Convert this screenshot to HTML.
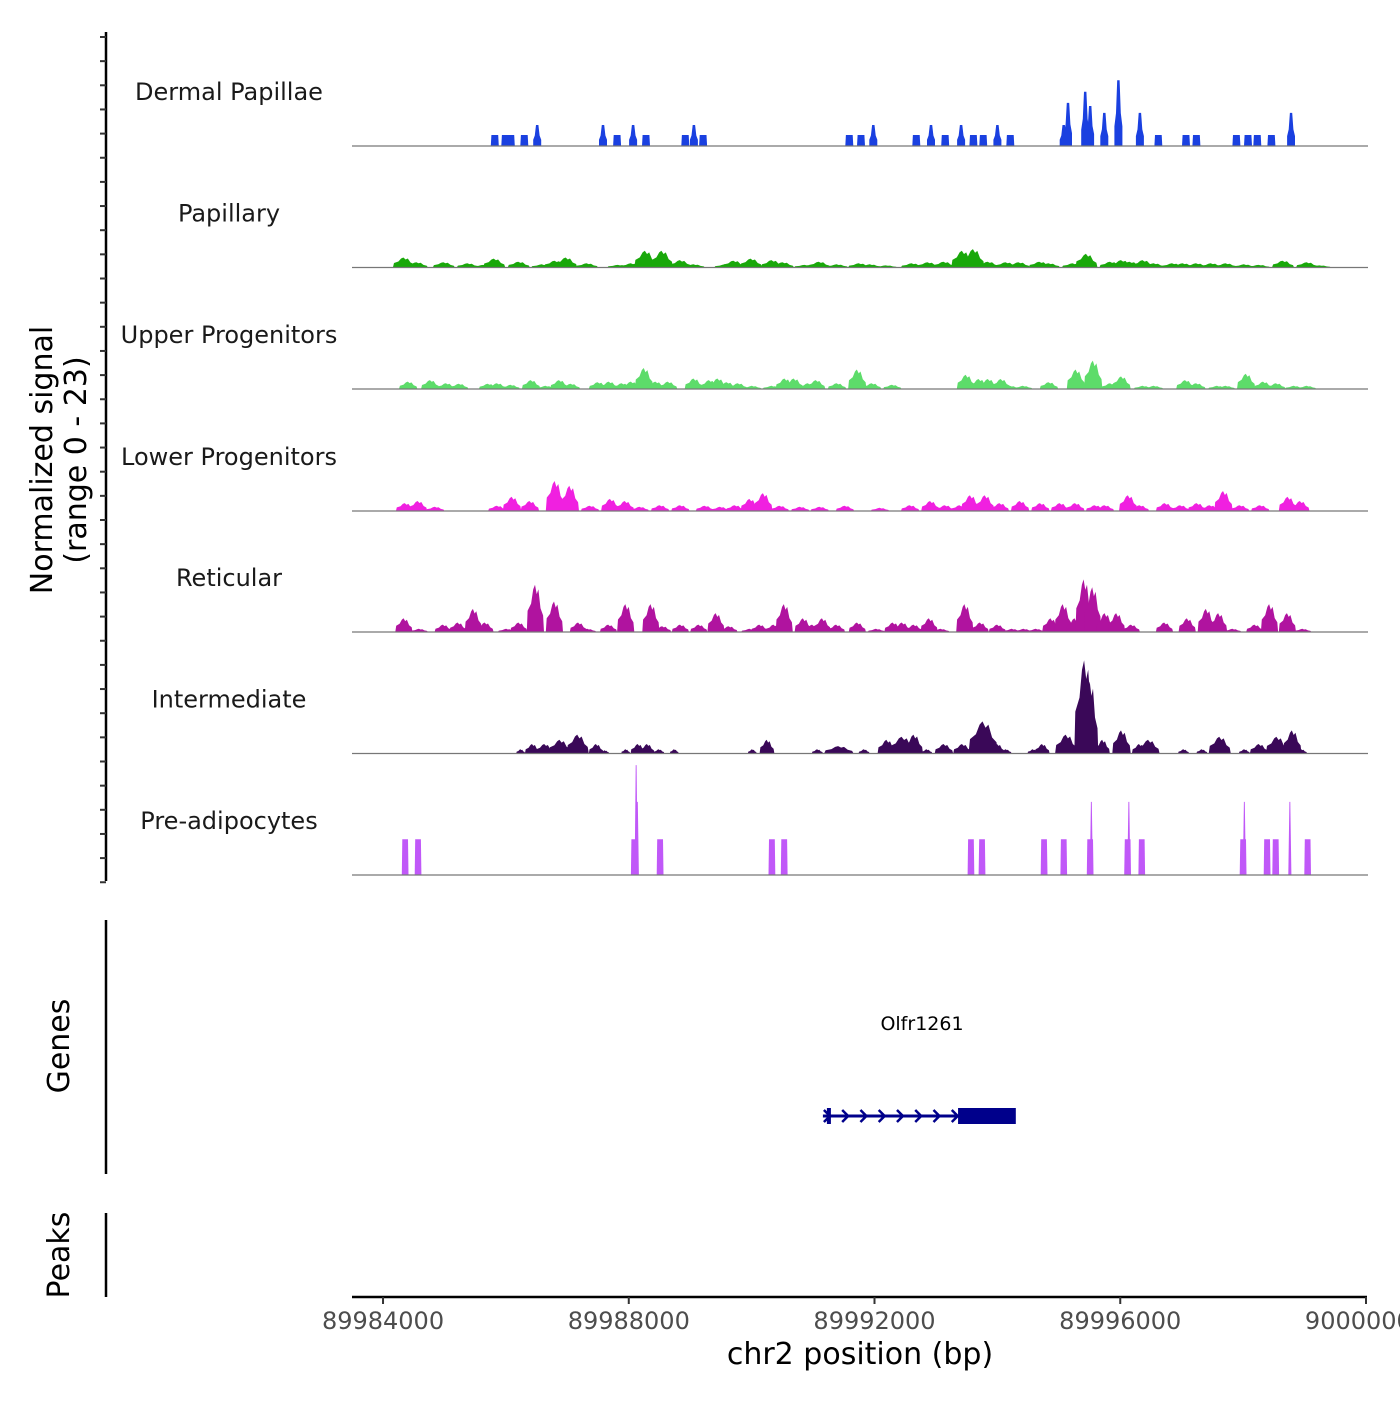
<!DOCTYPE html>
<html><head><meta charset="utf-8"><style>
body{margin:0;background:#fff;}
svg text{font-family:"DejaVu Sans","Liberation Sans",sans-serif;}
</style></head><body>
<svg id="chart" width="1400" height="1400" viewBox="0 0 1400 1400" xmlns="http://www.w3.org/2000/svg">
<g id="leftaxis"></g>
<text transform="translate(52,460) rotate(-90)" text-anchor="middle" font-size="30" fill="#000">Normalized signal</text>
<text transform="translate(86,460) rotate(-90)" text-anchor="middle" font-size="30" fill="#000">(range 0 - 23)</text>
<line x1="106" y1="920" x2="106" y2="1174" stroke="#000" stroke-width="2.5"/>
<text transform="translate(69,1046) rotate(-90)" text-anchor="middle" font-size="30">Genes</text>
<line x1="106" y1="1213" x2="106" y2="1297" stroke="#000" stroke-width="2.5"/>
<text transform="translate(69,1255) rotate(-90)" text-anchor="middle" font-size="30">Peaks</text>
<g id="tracks"></g>
<g id="gene"></g>
<g id="xaxis"></g>
<text x="860" y="1364" text-anchor="middle" font-size="30">chr2 position (bp)</text>
</svg>
<script>
// ---- data (positions in kb on chr2, values normalized signal 0-23) ----
const trackNames = ["Dermal Papillae","Papillary","Upper Progenitors","Lower Progenitors","Reticular","Intermediate","Pre-adipocytes"];
const trackColors = ["#1a40e0","#19a80a","#5ddc6a","#f020e0","#b0139f","#3a0858","#c058f8"];
const xTickKb = [89984, 89988, 89992, 89996, 90000];
const xTickLabels = ["89984000","89988000","89992000","89996000","90000000"];

const dpPos = [89985.82,89985.99,89986.08,89986.30,89986.51,89987.58,89987.81,89988.07,89988.28,89988.92,89989.06,89989.21,89991.59,89991.78,89991.98,89992.68,89992.92,89993.15,89993.41,89993.61,89993.77,89994.00,89994.21,89995.08,89995.15,89995.43,89995.51,89995.74,89995.97,89996.32,89996.62,89997.07,89997.24,89997.89,89998.08,89998.23,89998.46,89998.78];
const dpVal = [2.1,2.1,2.1,2.1,4.0,4.0,2.1,4.0,2.1,2.1,4.0,2.1,2.1,2.1,4.0,2.1,4.0,2.1,4.0,2.1,2.1,4.0,2.1,4.0,8.2,10.3,7.6,6.3,12.5,6.3,2.1,2.1,2.1,2.1,2.1,2.1,2.1,6.3];

const papPos = [89984.34,89984.55,89984.99,89985.38,89985.64,89985.81,89986.21,89986.59,89986.80,89986.98,89987.32,89987.83,89988.04,89988.27,89988.54,89988.84,89989.06,89989.57,89989.71,89989.99,89990.33,89990.51,89990.87,89991.10,89991.39,89991.75,89991.93,89992.19,89992.61,89992.87,89993.13,89993.43,89993.61,89993.85,89994.14,89994.35,89994.69,89994.84,89995.23,89995.45,89995.84,89996.02,89996.16,89996.37,89996.55,89996.85,89997.02,89997.24,89997.48,89997.72,89998.02,89998.26,89998.65,89999.04,89999.25];
const papVal = [1.9,1.0,1.0,0.8,0.5,1.7,1.1,0.6,1.3,1.9,0.8,0.5,0.8,3.2,3.2,1.4,0.6,0.6,1.3,1.7,1.4,1.0,0.5,1.1,0.6,0.8,0.6,0.4,0.8,1.0,1.1,3.2,3.5,1.1,1.0,1.0,1.1,0.8,0.8,2.6,1.1,1.4,1.1,1.4,0.8,0.8,0.8,0.8,0.8,0.8,0.6,0.5,1.3,1.0,0.4];

const upPos = [89984.41,89984.77,89985.03,89985.24,89985.71,89985.86,89986.08,89986.41,89986.65,89986.87,89987.06,89987.50,89987.68,89987.89,89988.04,89988.25,89988.44,89988.64,89989.06,89989.31,89989.45,89989.60,89989.78,89990.01,89990.33,89990.54,89990.69,89990.92,89991.05,89991.39,89991.72,89991.96,89992.29,89993.49,89993.70,89993.85,89994.06,89994.21,89994.42,89994.84,89995.28,89995.56,89995.84,89996.02,89996.37,89996.55,89997.06,89997.24,89997.58,89997.72,89998.05,89998.33,89998.54,89998.83,89999.04];
const upVal = [1.4,1.7,1.1,1.0,1.0,1.1,0.8,1.7,0.6,1.7,1.0,1.3,1.4,1.1,1.4,4.0,1.4,1.4,2.0,1.7,2.0,1.3,1.1,0.6,0.6,2.0,2.0,1.1,1.7,1.1,3.7,1.1,0.8,2.7,1.9,1.9,1.9,0.6,0.6,1.3,3.7,5.4,1.1,2.4,0.6,0.6,1.7,1.1,0.6,0.6,2.9,1.4,1.1,0.6,0.6];

const loPos = [89984.36,89984.57,89984.85,89985.86,89986.10,89986.39,89986.80,89987.04,89987.37,89987.70,89987.94,89988.18,89988.51,89988.84,89989.24,89989.49,89989.73,89989.97,89990.19,89990.46,89990.79,89991.11,89991.52,89992.09,89992.58,89992.91,89993.15,89993.39,89993.56,89993.80,89994.04,89994.37,89994.70,89995.02,89995.27,89995.59,89995.75,89996.13,89996.32,89996.73,89996.98,89997.25,89997.46,89997.68,89997.95,89998.28,89998.73,89998.93];
const loVal = [1.5,1.9,0.8,1.0,2.7,1.9,5.7,4.8,1.0,2.3,1.9,0.8,1.1,1.1,1.0,0.8,1.1,2.3,3.4,1.0,0.8,0.8,1.0,0.6,1.1,1.9,1.1,1.1,3.0,3.0,1.5,1.9,1.5,1.5,1.5,1.1,1.1,3.0,1.1,1.5,1.1,1.5,1.1,3.8,1.1,1.1,2.7,1.9];

const retPos = [89984.34,89984.59,89984.98,89985.22,89985.47,89985.66,89986.01,89986.21,89986.48,89986.79,89987.18,89987.33,89987.67,89987.95,89988.36,89988.55,89988.84,89989.14,89989.42,89989.63,89989.97,89990.13,89990.36,89990.53,89990.84,89990.99,89991.15,89991.38,89991.72,89992.03,89992.30,89992.45,89992.64,89992.89,89993.08,89993.47,89993.72,89994.00,89994.24,89994.43,89994.63,89994.87,89995.07,89995.26,89995.41,89995.55,89995.75,89995.94,89996.18,89996.72,89997.09,89997.40,89997.60,89997.83,89998.19,89998.43,89998.72,89998.97];
const retVal = [2.6,0.6,1.4,1.8,4.4,1.8,0.6,1.8,9.0,5.8,1.8,0.6,1.4,5.3,5.3,1.1,1.4,1.4,3.6,1.1,0.6,1.4,1.4,5.3,2.6,1.4,2.6,1.4,1.8,0.6,1.8,1.8,1.4,2.6,0.6,5.3,1.8,1.4,0.6,0.6,0.6,2.6,5.3,2.6,10.0,8.5,3.6,3.6,1.4,1.8,2.6,4.4,3.6,0.6,1.4,5.3,3.6,0.6];

const intPos = [89986.24,89986.43,89986.63,89986.88,89987.17,89987.47,89987.61,89987.95,89988.15,89988.30,89988.49,89988.74,89990.01,89990.25,89991.07,89991.42,89991.83,89992.20,89992.45,89992.64,89992.85,89993.13,89993.43,89993.77,89994.00,89994.14,89994.58,89994.73,89995.12,89995.42,89995.51,89995.71,89996.02,89996.31,89996.46,89997.03,89997.33,89997.62,89998.02,89998.26,89998.55,89998.80,89998.95];
const intVal = [0.8,1.8,1.8,2.6,3.6,1.8,0.6,0.8,1.8,1.8,0.8,0.8,0.8,2.6,0.8,1.4,0.8,2.6,3.2,3.6,0.8,1.8,1.8,6.1,1.8,0.8,0.8,1.8,3.6,17.7,13.7,2.6,4.4,1.8,2.6,0.8,0.8,3.2,0.8,1.8,3.2,4.4,0.8];
const intWid = [0.12,0.2,0.25,0.3,0.3,0.2,0.12,0.12,0.2,0.2,0.15,0.12,0.12,0.2,0.15,0.4,0.15,0.25,0.35,0.25,0.15,0.25,0.25,0.4,0.2,0.15,0.15,0.2,0.3,0.28,0.22,0.2,0.25,0.2,0.3,0.15,0.15,0.3,0.15,0.25,0.3,0.25,0.15];

const preadPos = [89984.36,89984.57,89988.09,89988.14,89988.12,89988.51,89990.33,89990.53,89993.57,89993.75,89994.76,89995.08,89995.51,89995.53,89996.12,89996.14,89996.35,89998.00,89998.02,89998.39,89998.53,89998.76,89999.05];
const preadVal = [6.8,6.8,6.8,13.9,20.9,6.8,6.8,6.8,6.8,6.8,6.8,6.8,6.8,13.9,6.8,13.9,6.8,6.8,13.9,6.8,6.8,13.9,6.8];

const geneStartKb = 89991.16, geneCdsStartKb = 89993.36, geneEndKb = 89994.30;

// ---- scales ----
const NS = "http://www.w3.org/2000/svg";
const X0 = 352, X1 = 1366, KB0 = 89983.495, KB1 = 90000;
function xs(kb){ return X0 + (kb - KB0) * (X1 - X0) / (KB1 - KB0); }
const baselines = [146, 267.5, 389, 511, 632, 753.5, 875];
const PX_PER_UNIT = 5.26;
function mk(tag, attrs, parent){ const e = document.createElementNS(NS, tag); for (const k in attrs) e.setAttribute(k, attrs[k]); parent.appendChild(e); return e; }

// left axis
const la = document.getElementById('leftaxis');
const lal = mk('line', {x1:106,y1:32,x2:106,y2:881,stroke:'#000','stroke-width':2.5}, la);


for (let i = 0; i < 36; i++) {
  const y = 37 + i * 24.15;
  const t = mk('line', {x1:100,y1:y,x2:106,y2:y,stroke:'#333','stroke-width':2}, la);
  
  
}

const trackPos = [dpPos, papPos, upPos, loPos, retPos, intPos, preadPos];
const trackVal = [dpVal, papVal, upVal, loVal, retVal, intVal, preadVal];
const trackWidth = [0.13, 0.36, 0.3, 0.3, 0.28, 0.24, 0.11];
const tg = document.getElementById('tracks');
trackNames.forEach((name, t) => {
  const g = mk('g', {}, tg);
  
  
  const lab = mk('text', {x:229, y:baselines[t] - 46, 'text-anchor':'middle', 'font-size':24, fill:'#1a1a1a'}, g);
  lab.textContent = name;
  
  
  const pos = trackPos[t], val = trackVal[t];
  pos.forEach((p, i) => {
    let w = t === 5 ? intWid[i] * 1.2 : trackWidth[t];
    const spike = (t === 6 && val[i] > 7);
    if (spike) w = 0.05;
    const b = baselines[t], h = val[i] * PX_PER_UNIT;
    const xl = xs(p - w/2), xr = xs(p + w/2), xc = xs(p);
    const hw = (xr - xl) / 2;
    let pts;
    if (t === 0 || t === 6) {
      if (spike) {
        pts = [[xl,b],[xc-hw*0.3,b-h],[xc+hw*0.3,b-h],[xr,b]];
      } else if (t === 0 && val[i] > 3) {
        pts = [[xl,b],[xl,b-h*0.3],[xc-hw*0.6,b-h*0.5],[xc-hw*0.3,b-h],[xc+hw*0.3,b-h],[xc+hw*0.6,b-h*0.5],[xr,b-h*0.3],[xr,b]];
      } else {
        pts = [[xl,b],[xl+hw*0.15,b-h],[xr-hw*0.15,b-h],[xr,b]];
      }
    } else {
      pts = [[xl,b],[xl+hw*0.1,b-h*0.45],[xc-hw*0.5,b-h*0.6],[xc-hw*0.25,b-h*0.9],[xc-hw*0.05,b-h],[xc+hw*0.15,b-h*0.8],[xc+hw*0.35,b-h*0.9],[xc+hw*0.6,b-h*0.5],[xr-hw*0.1,b-h*0.35],[xr,b]];
    }
    const poly = mk('polygon', {points: pts.map(q => q[0].toFixed(1)+','+q[1].toFixed(1)).join(' '), fill: trackColors[t]}, g);
    
    
  });
  const bl = mk('line', {x1:352, y1:baselines[t], x2:1368, y2:baselines[t], stroke:'#777', 'stroke-width':1.2}, g);
  
  
});

// gene
const gg = document.getElementById('gene');
const gy = 1116;
const gl = mk('text', {x:922, y:1030, 'text-anchor':'middle', 'font-size':19}, gg);
gl.textContent = 'Olfr1261';


const gx0 = xs(geneStartKb), gx1 = xs(geneCdsStartKb), gx2 = xs(geneEndKb);
const gline = mk('line', {x1:gx0, y1:gy, x2:gx1, y2:gy, stroke:'#00008b', 'stroke-width':3}, gg);


const gtick = mk('rect', {x:gx0+4, y:gy-8, width:4, height:16, fill:'#00008b'}, gg);


const gbox = mk('rect', {x:gx1, y:gy-8, width:gx2-gx1, height:16, fill:'#00008b'}, gg);


for (let i = 0; i < 8; i++) {
  const cx = gx0 + 4 + i * ((gx1 - gx0) / 7.4);
  const ch = mk('polyline', {points:`${cx-3},${gy-6} ${cx+3},${gy} ${cx-3},${gy+6}`, fill:'none', stroke:'#00008b', 'stroke-width':2.5}, gg);
  
  
}

// x axis
const xa = document.getElementById('xaxis');
const axl = mk('line', {x1:352, y1:1297, x2:1367, y2:1297, stroke:'#000', 'stroke-width':2.5}, xa);


xTickKb.forEach((kb, i) => {
  const x = xs(kb);
  const tk = mk('line', {x1:x, y1:1297, x2:x, y2:1304, stroke:'#333', 'stroke-width':2}, xa);
  
  
  const tl = mk('text', {x:x, y:1329, 'text-anchor':'middle', 'font-size':24, fill:'#4d4d4d'}, xa);
  tl.textContent = xTickLabels[i];
  
  
});
</script>
</body></html>
